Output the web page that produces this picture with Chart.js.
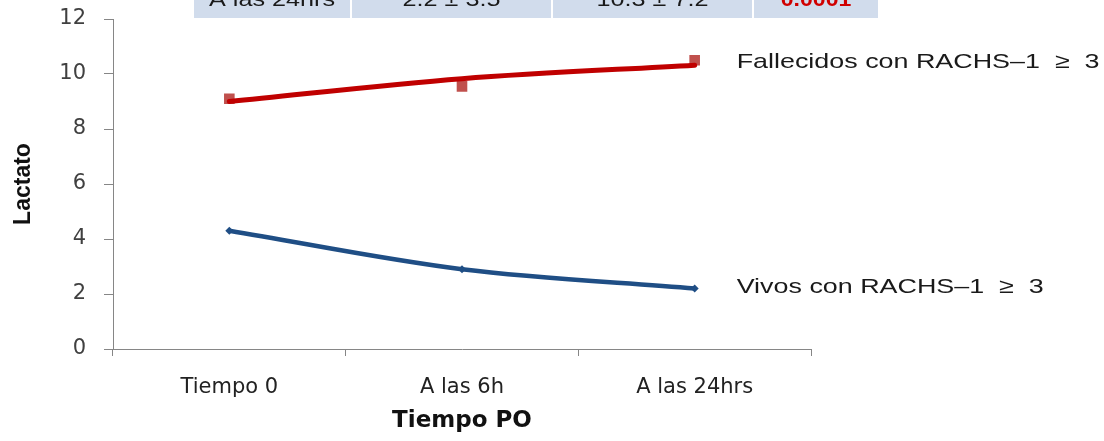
<!DOCTYPE html>
<html lang="es">
<head>
<meta charset="utf-8">
<title>Lactato por tiempo PO</title>
<script src="https://cdn.jsdelivr.net/npm/chart.js@4/dist/chart.umd.min.js"></script>
<style>
  html, body { margin: 0; padding: 0; background: #ffffff; }
  #wrap { width: 1104px; height: 441px; position: relative; }
</style>
</head>
<body>
<div id="wrap"><canvas id="grafico" width="1104" height="441"></canvas></div>
<script>
// Categorías del eje X
const categorias = ['Tiempo 0', 'A las 6h', 'A las 24hrs'];
// Lactato medio de fallecidos (marcadores cuadrados)
const fallecidos = [9.1, 9.55, 10.5];
// Línea de tendencia de fallecidos
const tendenciaFallecidos = [9.0, 9.83, 10.32];
// Lactato medio de vivos
const vivos = [4.3, 2.9, 2.2];
// Marcas del eje Y
const marcasY = [0, 2, 4, 6, 8, 10, 12];
// Fila visible de la tabla superior
const filaTabla = ['A las 24hrs', '2.2 ± 3.5', '10.3 ± 7.2', '0.0001'];
// Etiquetas de las series
const etiquetaFallecidos = 'Fallecidos con RACHS\u20131  \u2265  3';
const etiquetaVivos = 'Vivos con RACHS\u20131  \u2265  3';

const rojoMarcador = '#c0504d';
const rojoLinea = '#c00000';
const azul = '#1f4e85';
const gris = '#868686';

// Texto con estiramiento horizontal
function textoEstirado(ctx, texto, x, y, fuente, color, alineacion, sx) {
  ctx.save();
  ctx.font = fuente;
  ctx.fillStyle = color;
  ctx.textBaseline = 'alphabetic';
  const w = ctx.measureText(texto).width * sx;
  let x0 = x;
  if (alineacion === 'center') x0 = x - w / 2;
  else if (alineacion === 'right') x0 = x - w;
  ctx.translate(x0, y);
  ctx.scale(sx, 1);
  ctx.textAlign = 'left';
  ctx.fillText(texto, 0, 0);
  ctx.restore();
}

const complementoTextos = {
  id: 'textosExtra',
  afterDraw(chart) {
    const ctx = chart.ctx;
    const xs = chart.scales.x;
    const ys = chart.scales.y;

    // Tabla superior (fila inferior visible)
    const celdas = [[194, 350], [352, 551], [553, 752], [754, 878]];
    ctx.save();
    ctx.fillStyle = '#d1dcec';
    celdas.forEach(([a, b]) => ctx.fillRect(a, -10, b - a, 28));
    ctx.restore();
    filaTabla.forEach((t, i) => {
      const [a, b] = celdas[i];
      const esP = i === filaTabla.length - 1;
      textoEstirado(ctx, t, (a + b) / 2, 6,
        (esP ? 'bold ' : '') + '21px "Liberation Sans"',
        esP ? '#d00000' : '#1a1a1a', 'center', esP ? 1.1 : 1.2);
    });

    // Etiquetas junto al último punto de cada serie
    const xEtiq = xs.getPixelForValue(categorias.length - 1) + 42;
    textoEstirado(ctx, etiquetaFallecidos, xEtiq,
      ys.getPixelForValue(fallecidos[fallecidos.length - 1]) + 8,
      '21px "Liberation Sans"', '#1a1a1a', 'left', 1.28);
    textoEstirado(ctx, etiquetaVivos, xEtiq,
      ys.getPixelForValue(vivos[vivos.length - 1]) + 4,
      '21px "Liberation Sans"', '#1a1a1a', 'left', 1.28);
  }
};

new Chart(document.getElementById('grafico'), {
  type: 'line',
  data: {
    labels: categorias,
    datasets: [
      {
        label: 'Tendencia fallecidos',
        data: tendenciaFallecidos,
        borderColor: rojoLinea,
        borderWidth: 5,
        pointRadius: 0,
        cubicInterpolationMode: 'monotone',
        borderCapStyle: 'round',
        fill: false
      },
      {
        label: 'Vivos',
        data: vivos,
        borderColor: azul,
        backgroundColor: azul,
        borderWidth: 4.5,
        pointStyle: 'rectRot',
        pointRadius: 4,
        pointBorderWidth: 0,
        cubicInterpolationMode: 'monotone',
        fill: false
      },
      {
        label: 'Fallecidos',
        data: fallecidos,
        showLine: false,
        pointStyle: 'rect',
        pointRadius: 7.5,
        pointBackgroundColor: rojoMarcador,
        pointBorderWidth: 0,
        borderColor: rojoMarcador
      }
    ]
  },
  options: {
    responsive: false,
    animation: false,
    events: [],
    layout: { padding: { top: 19, right: 293, left: 0, bottom: 0 } },
    plugins: {
      legend: { display: false },
      tooltip: { enabled: false }
    },
    scales: {
      x: {
        offset: true,
        grid: {
          offset: true,
          drawOnChartArea: false,
          drawTicks: true,
          tickLength: 7,
          color: gris,
          lineWidth: 1
        },
        border: { color: gris, width: 1 },
        ticks: {
          color: '#222222',
          padding: 19,
          font: { family: '"DejaVu Sans"', size: 21 }
        },
        title: {
          display: true,
          text: 'Tiempo PO',
          color: '#111111',
          padding: { top: 0, bottom: 6 },
          font: { family: '"DejaVu Sans"', size: 23, weight: 'bold' }
        },
        afterFit(s) { s.height = 92; }
      },
      y: {
        min: 0,
        max: 12,
        afterBuildTicks(s) { s.ticks = marcasY.map(v => ({ value: v })); },
        grid: {
          drawOnChartArea: false,
          drawTicks: true,
          tickLength: 9,
          color: gris,
          lineWidth: 1
        },
        border: { color: gris, width: 1 },
        ticks: {
          color: '#404040',
          padding: 18,
          font: { family: '"DejaVu Sans"', size: 21 }
        },
        title: {
          display: true,
          text: 'Lactato',
          color: '#111111',
          padding: { top: 10, bottom: 0 },
          font: { family: '"Liberation Sans"', size: 23, weight: 'bold' }
        },
        afterFit(s) {
          s.width = 113;
          s.paddingTop = 0;
          s.paddingBottom = 0;
        }
      }
    }
  },
  plugins: [complementoTextos]
});
</script>
</body>
</html>
